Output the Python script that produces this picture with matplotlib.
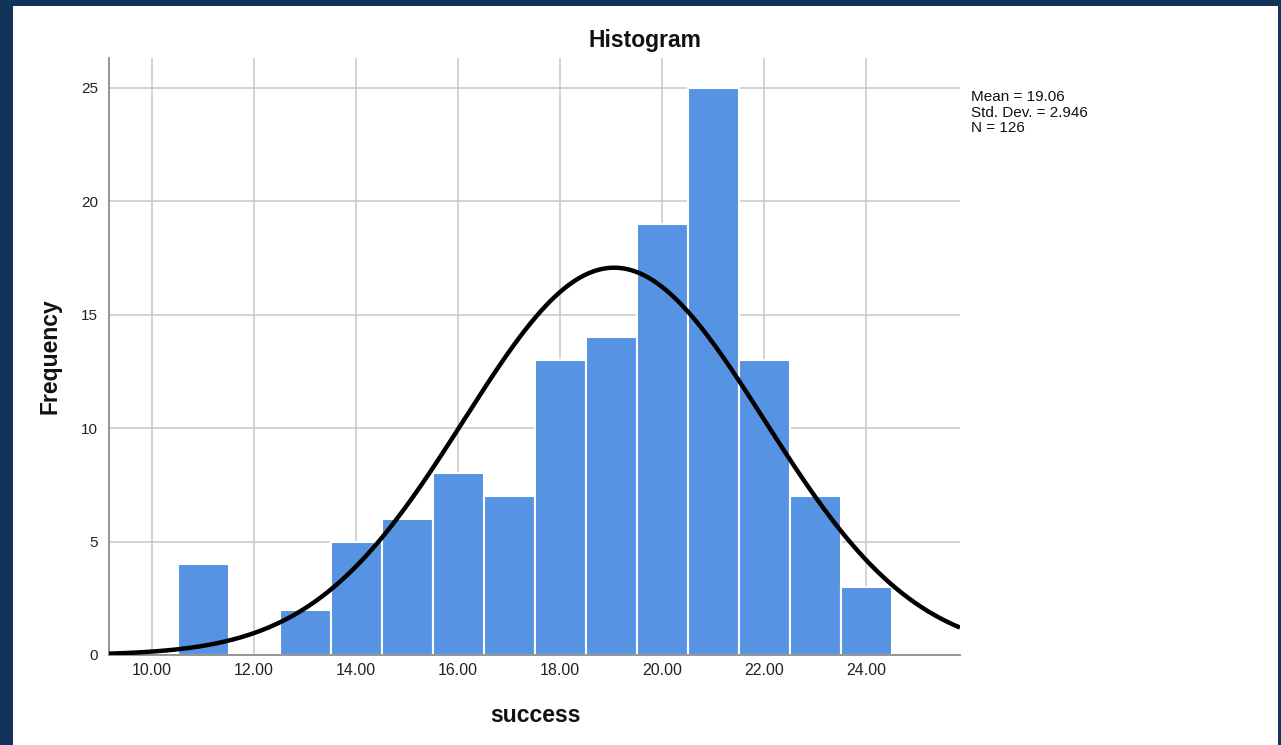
import numpy as np
import matplotlib
matplotlib.use("Agg")
import matplotlib.pyplot as plt

# histogram counts, one bin per integer score (bin width 1)
bin_centers = [11, 13, 14, 15, 16, 17, 18, 19, 20, 21, 22, 23, 24]
counts = [4, 2, 5, 6, 8, 7, 13, 14, 19, 25, 13, 7, 3]
mean = 19.06
std_dev = 2.946
n_total = 126

x_ticks = [10, 12, 14, 16, 18, 20, 22, 24]
y_ticks = [0, 5, 10, 15, 20, 25]

plt.rcParams['font.family'] = ['Liberation Sans', 'DejaVu Sans']

fig = plt.figure(figsize=(12.81, 7.45), dpi=100)
fig.patch.set_facecolor('#12345a')
# white panel inside the dark frame
panel = fig.add_axes([13 / 1281, 0, (1278 - 13) / 1281, (745 - 6) / 745])
panel.set_facecolor('white')
panel.set_xticks([])
panel.set_yticks([])
for s in panel.spines.values():
    s.set_visible(False)

ax = fig.add_axes([109 / 1281, 90 / 745, (960 - 109) / 1281, (655 - 58) / 745])
ax.set_facecolor('white')

ax.bar(bin_centers, counts, width=1.0, color='#5693e2', edgecolor='white',
       linewidth=1.5, zorder=2)

# fitted normal curve scaled to counts
xs = np.linspace(9.157, 25.84, 400)
ys = n_total * 1.0 / (std_dev * np.sqrt(2 * np.pi)) * np.exp(-0.5 * ((xs - mean) / std_dev) ** 2)
ax.plot(xs, ys, color='black', linewidth=3.2, zorder=3, solid_capstyle='butt')

ax.set_xlim(9.157, 25.84)
ax.set_ylim(0, 26.3)
ax.set_xticks(x_ticks)
ax.set_xticklabels([f"{v:.2f}" for v in x_ticks])
ax.set_yticks(y_ticks)
ax.tick_params(length=0, labelsize=11.5, colors='#222222', pad=6)
ax.tick_params(axis='y', labelsize=11, pad=8)

ax.grid(True, color='#c8c8c8', linewidth=1.1, zorder=0)
ax.set_axisbelow(True)
for side in ['top', 'right']:
    ax.spines[side].set_visible(False)
ax.spines['left'].set_color('#8c8c8c')
ax.spines['bottom'].set_color('#8c8c8c')
ax.spines['left'].set_linewidth(1.3)
ax.spines['bottom'].set_linewidth(1.3)

fig.text(645 / 1281, 1 - 40 / 745, 'Histogram', ha='center', va='center',
         fontsize=16.5, fontweight='bold', color='#111111')
fig.text(535 / 1281, 1 - 716 / 745, 'success', ha='center', va='center',
         fontsize=16.5, fontweight='bold', color='#111111')
fig.text(50 / 1281, 1 - 356 / 745, 'Frequency', ha='center', va='center',
         rotation=90, fontsize=16.5, fontweight='bold', color='#111111')

fig.text(971 / 1281, 1 - 90 / 745,
         f"Mean = {mean:.2f}\nStd. Dev. = {std_dev:.3f}\nN = {n_total}",
         ha='left', va='top', fontsize=11, linespacing=1.15, color='#111111')

fig.savefig('out.png', dpi=100, facecolor=fig.get_facecolor())
